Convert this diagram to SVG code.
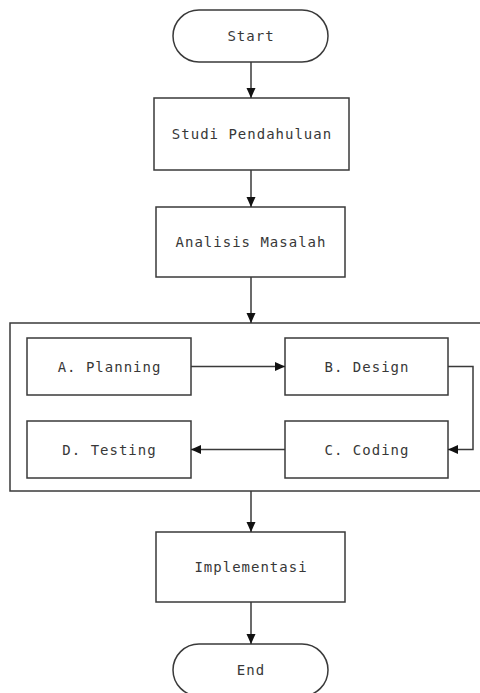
<svg xmlns="http://www.w3.org/2000/svg" width="480" height="693" viewBox="0 0 480 693">
<style>
.box{fill:#fff;stroke:#3a3a3a;stroke-width:1.5}
.con{fill:none;stroke:#3a3a3a;stroke-width:1.5}
.t{font-family:"DejaVu Sans Mono","Liberation Mono",monospace;font-size:14px;letter-spacing:1px;fill:#383838;text-anchor:middle;dominant-baseline:central}
</style>
<defs>
<marker id="ah" viewBox="0 0 10 10" refX="10" refY="5" markerWidth="10" markerHeight="10" markerUnits="userSpaceOnUse" orient="auto">
<path d="M0,0.5 L10,5 L0,9.5 Z" fill="#111"/>
</marker>
</defs>
<rect width="480" height="693" fill="#fff"/>
<g id="container"><rect class="box" x="10" y="323" width="475" height="168"/></g>
<g id="start"><rect class="box" x="173" y="10" width="155" height="52" rx="26"/><text class="t" x="251" y="36">Start</text></g>
<g id="studi"><rect class="box" x="154" y="98" width="195" height="72"/><text class="t" x="252" y="134">Studi Pendahuluan</text></g>
<g id="analisis"><rect class="box" x="156" y="207" width="189" height="70"/><text class="t" x="251" y="242">Analisis Masalah</text></g>
<g id="planning"><rect class="box" x="27" y="338" width="164" height="57"/><text class="t" x="109.5" y="366.5">A. Planning</text></g>
<g id="design"><rect class="box" x="285" y="338" width="163" height="57"/><text class="t" x="367" y="366.5">B. Design</text></g>
<g id="testing"><rect class="box" x="27" y="421" width="164" height="57"/><text class="t" x="109.5" y="449.5">D. Testing</text></g>
<g id="coding"><rect class="box" x="285" y="421" width="163" height="57"/><text class="t" x="367" y="449.5">C. Coding</text></g>
<g id="implementasi"><rect class="box" x="156" y="532" width="189" height="70"/><text class="t" x="251" y="567">Implementasi</text></g>
<g id="end"><rect class="box" x="173" y="644" width="155" height="52" rx="26"/><text class="t" x="251" y="670">End</text></g>
<g id="connectors">
<path class="con" d="M251,62 V98" marker-end="url(#ah)"/>
<path class="con" d="M251,170 V207" marker-end="url(#ah)"/>
<path class="con" d="M251,277 V323" marker-end="url(#ah)"/>
<path class="con" d="M191,366.5 H285" marker-end="url(#ah)"/>
<path class="con" d="M448,366.5 H473 V449.5 H448" marker-end="url(#ah)"/>
<path class="con" d="M285,449.5 H191" marker-end="url(#ah)"/>
<path class="con" d="M251,491 V532" marker-end="url(#ah)"/>
<path class="con" d="M251,602 V644" marker-end="url(#ah)"/>
</g>
</svg>
